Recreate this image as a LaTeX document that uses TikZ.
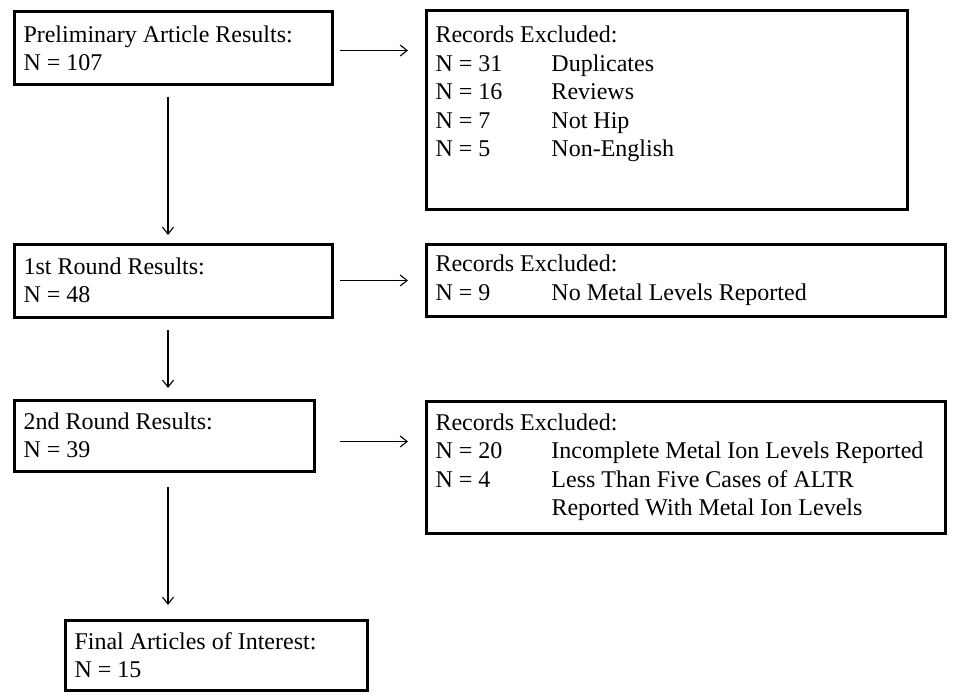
\documentclass[tikz,border=0pt]{standalone}
\usepackage{fontspec}
\setmainfont{Liberation Serif}
\usetikzlibrary{arrows.meta}
\newcommand{\exrow}[2]{\makebox[116pt][l]{#1}#2}

\begin{document}
\begin{tikzpicture}[
		x=1pt, y=1pt,
		>={Straight Barb[length=7pt,width=11pt]},
		box/.style = {draw, line width=3pt, outer sep=0pt, inner xsep=9.5pt, inner ysep=0pt,
			anchor=north west, align=flush left, font=\fontsize{24}{28.5}\selectfont},
		flow/.style = {->, line width=1.1pt}
	]
	\useasboundingbox (0,0) rectangle (955,-695);
	% Left column.
	\node[box, text width=299pt, minimum height=73pt] (prelim) at (14,-12)
		{Preliminary Article Results:\\ N = 107};
	\node[box, text width=299pt, minimum height=73pt] (round1) at (14,-244)
		{1st Round Results:\\ N = 48};
	\node[box, text width=281pt, minimum height=71pt] (round2) at (14,-400)
		{2nd Round Results:\\ N = 39};
	\node[box, text width=283pt, minimum height=70pt] (final) at (65,-620)
		{Final Articles of Interest:\\ N = 15};
	% Right column.
	\node[box, text width=462pt, minimum height=198pt] (excl1) at (426,-11)
		{Records Excluded:\\ \exrow{N = 31}{Duplicates}\\ \exrow{N = 16}{Reviews}\\
		 \exrow{N = 7}{Not Hip}\\ \exrow{N = 5}{Non-English}\\ \strut};
	\node[box, text width=500pt, minimum height=72pt] (excl2) at (426,-244)
		{Records Excluded:\\ \exrow{N = 9}{No Metal Levels Reported}};
	\node[box, text width=500pt, minimum height=132pt] (excl3) at (426,-401)
		{Records Excluded:\\ \exrow{N = 20}{Incomplete Metal Ion Levels Reported}\\
		 \exrow{N = 4}{Less Than Five Cases of ALTR}\\ \exrow{}{Reported With Metal Ion Levels}};

	\draw[flow, shorten <=8pt, shorten >=18pt] ([yshift=-2pt]prelim.east) -- ([yshift=-2pt]prelim.east -| excl1.west);
	\draw[flow, shorten <=8pt, shorten >=18pt] (round1.east) -- (round1.east -| excl2.west);
	\draw[flow, shorten <=26pt, shorten >=18pt] ([yshift=-6pt]round2.east) -- ([yshift=-6pt]round2.east -| excl3.west);

	\draw[flow, shorten <=12pt, shorten >=9pt] ([xshift=-5pt]prelim.south) -- ([xshift=-5pt]prelim.south |- round1.north);
	\draw[flow, shorten <=13pt, shorten >=12pt] ([xshift=-5pt]round1.south) -- ([xshift=-5pt]round1.south |- round2.north);
	\draw[flow, shorten <=16pt, shorten >=15pt] ([xshift=4pt]round2.south) -- ([xshift=4pt]round2.south |- final.north);
\end{tikzpicture}
\end{document}
